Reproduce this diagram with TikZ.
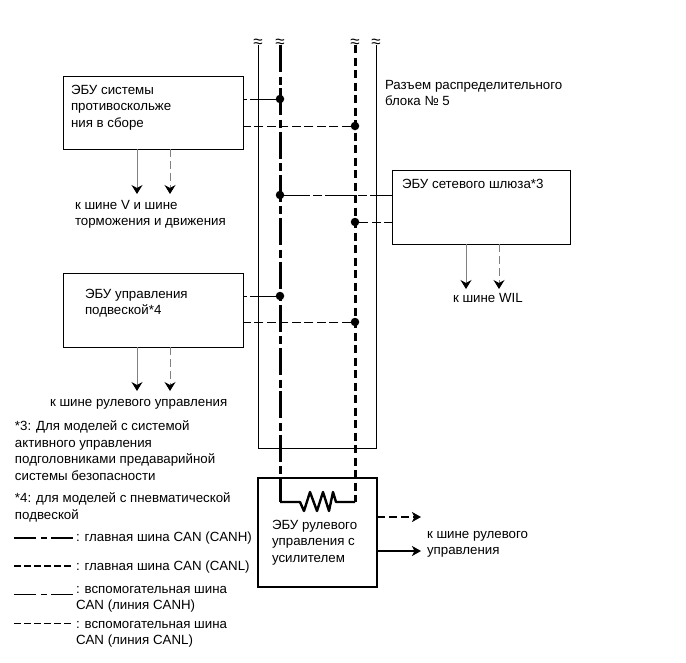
\documentclass[tikz,border=0pt]{standalone}
\usepackage{fontspec}
\setmainfont{Liberation Sans}
\usetikzlibrary{arrows.meta}
\tikzset{
  ecubox/.style={draw=black,line width=1pt,inner sep=0pt,outer sep=0pt},
  mainbox/.style={draw=black,line width=2.6pt,inner sep=0pt,outer sep=0pt},
  lbl/.style={anchor=north west,inner sep=0pt,outer sep=0pt,align=left,font=\fontsize{13.3}{16.4}\selectfont},
  jdot/.style={circle,fill=black,draw=none,minimum size=8.5pt,inner sep=0pt,outer sep=0pt},
  frameline/.style={line width=1pt},
  canhmain/.style={line width=3pt,dash pattern=on 27pt off 4.5pt on 8pt off 3.8pt},
  canlmain/.style={line width=3pt,dash pattern=on 8pt off 4.5pt},
  canhsub/.style={line width=1pt,dash pattern=on 30pt off 3pt on 9pt off 3pt,dash phase=4pt},
  canlsub/.style={line width=1pt,dash pattern=on 9pt off 3.5pt},
  stubh/.style={draw=black!50,line width=1pt,-{Stealth[length=9pt,width=11pt,inset=3pt,color=black]}},
  stubl/.style={draw=black!50,line width=1pt,dash pattern=on 8pt off 4pt,-{Stealth[length=9pt,width=11pt,inset=3pt,color=black]}},
  outh/.style={line width=2.4pt,-{Stealth[length=9pt,width=10pt,inset=2.5pt]}},
  outl/.style={line width=2.4pt,dash pattern=on 8pt off 4pt,-{Stealth[length=9pt,width=10pt,inset=2.5pt]}},
  brk/.style={inner sep=0pt,outer sep=0pt,font=\fontsize{17}{17}\selectfont},
}
\begin{document}
\begin{tikzpicture}[x=1pt,y=-1pt]
\useasboundingbox[fill=white] (0,0) rectangle (686,662);

% coordinates of bus ends
\coordinate (ft1) at (258,45); \coordinate (fb1) at (258,448);
\coordinate (ft2) at (376,45); \coordinate (fb2) at (376,448);
\coordinate (ht) at (280,45); \coordinate (hb) at (280,502);
\coordinate (lt) at (355,45); \coordinate (lb) at (355,502);

% boxes
\node[ecubox,minimum width=180pt,minimum height=73pt] (abs) at (153,112.5) {};
\node[ecubox,minimum width=180pt,minimum height=74pt] (susp) at (153,310) {};
\node[ecubox,minimum width=178pt,minimum height=74pt] (gw) at (481,207) {};

% frame
\draw[frameline] (ft1) -- (fb1) -- (fb2) -- (ft2);

% main bus
\draw[canhmain] (ht) -- (hb);
\draw[canlmain] (lt) -- (lb);

% junctions
\node[jdot] (j1) at (280,99) {};
\node[jdot] (j2) at (355,126) {};
\node[jdot] (j3) at (280,195) {};
\node[jdot] (j4) at (355,222) {};
\node[jdot] (j5) at (280,296) {};
\node[jdot] (j6) at (355,322) {};

% branch lines
\draw[canhsub] (j1) -- (j1 -| abs.east);
\draw[canlsub] (j2) -- (j2 -| abs.east);
\draw[canhsub] (j3) -- (j3 -| gw.west);
\draw[canlsub] (j4) -- (j4 -| gw.west);
\draw[canhsub] (j5) -- (j5 -| susp.east);
\draw[canlsub] (j6) -- (j6 -| susp.east);

% stubs
\coordinate (a1) at (137,149); \coordinate (a1e) at (137,194);
\coordinate (a2) at (170,149); \coordinate (a2e) at (170,194);
\coordinate (s1) at (137,347); \coordinate (s1e) at (137,391);
\coordinate (s2) at (170,347); \coordinate (s2e) at (170,391);
\coordinate (g1) at (466,244); \coordinate (g1e) at (466,289);
\coordinate (g2) at (499,244); \coordinate (g2e) at (499,289);
\draw[stubh] (a1) -- (a1e);
\draw[stubl] (a2) -- (a2e);
\draw[stubh] (s1) -- (s1e);
\draw[stubl] (s2) -- (s2e);
\draw[stubh] (g1) -- (g1e);
\draw[stubl] (g2) -- (g2e);

% main ECU
\node[mainbox,minimum width=119pt,minimum height=109pt] (eps) at (317.5,532.5) {};
\draw[line width=2.4pt,line join=round] (hb) -- (300,502) -- (304,511) -- (310,492) -- (317,511) -- (323,492) -- (329,511) -- (333,492) -- (336,502) -- (lb);
\coordinate (o1e) at (421,517);
\coordinate (o2e) at (421,551);
\draw[outl] (eps.east |- o1e) -- (o1e);
\draw[outh] (eps.east |- o2e) -- (o2e);

% break marks
\node[brk] (b1) at (258,43) {≈};
\node[brk] (b2) at (280,43) {≈};
\node[brk] (b3) at (355,43) {≈};
\node[brk] (b4) at (376,43) {≈};

% texts
\node[lbl] (t1) at (71,85) {ЭБУ системы\\противоскольже\\ния в сборе};
\node[lbl] (t2) at (75,200) {к шине V и шине\\торможения и движения};
\node[lbl] (t3) at (385,80) {Разъем распределительного\\блока № 5};
\node[lbl] (t4) at (402,179) {ЭБУ сетевого шлюза*3};
\node[lbl] (t5) at (453,293) {к шине WIL};
\node[lbl] (t6) at (85,289) {ЭБУ управления\\подвеской*4};
\node[lbl] (t7) at (50,399) {к шине рулевого управления};
\node[lbl] (t8) at (15,421) {*3: Для моделей с системой\\активного управления\\подголовниками предаварийной\\системы безопасности};
\node[lbl] (t9) at (15,493) {*4: для моделей с пневматической\\подвеской};
\node[lbl] (t10) at (272,520) {ЭБУ рулевого\\управления с\\усилителем};
\node[lbl] (t11) at (427,531) {к шине рулевого\\управления};

% legend
\coordinate (l1a) at (14,538); \coordinate (l1b) at (73,538);
\coordinate (l2a) at (14,566); \coordinate (l2b) at (73,566);
\coordinate (l3a) at (14,594); \coordinate (l3b) at (73,594);
\coordinate (l4a) at (14,623); \coordinate (l4b) at (73,623);
\draw[line width=2.4pt,dash pattern=on 22pt off 5pt on 6pt off 4pt] (l1a) -- (l1b);
\draw[line width=2.4pt,dash pattern=on 7pt off 3pt] (l2a) -- (l2b);
\draw[line width=1pt,dash pattern=on 22pt off 5pt on 6pt off 4pt] (l3a) -- (l3b);
\draw[line width=1pt,dash pattern=on 7pt off 3pt] (l4a) -- (l4b);
\node[lbl] (t12) at (76,532) {: главная шина CAN (CANH)};
\node[lbl] (t13) at (76,561) {: главная шина CAN (CANL)};
\node[lbl] (t14) at (76,586) {: вспомогательная шина\\CAN (линия CANH)};
\node[lbl] (t15) at (76,621) {: вспомогательная шина\\CAN (линия CANL)};
\end{tikzpicture}
\end{document}
